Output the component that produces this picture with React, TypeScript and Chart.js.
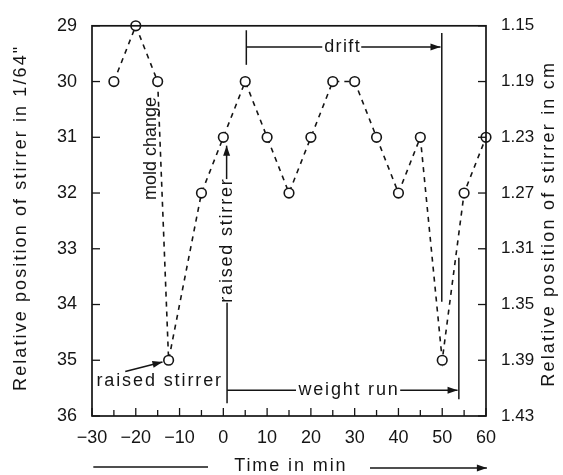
import React, { useEffect, useRef } from 'react';
import { Chart, registerables } from 'chart.js';

Chart.register(...registerables);

// ---- data ----
const timeMin = [-25, -20, -15, -12.5, -5, 0, 5, 10, 15, 20, 25, 30, 35, 40, 45, 50, 55, 60];
const position64 = [30, 29, 30, 35, 32, 31, 30, 31, 32, 31, 30, 30, 31, 32, 31, 35, 32, 31];

const xTickValues = [-30, -20, -10, 0, 10, 20, 30, 40, 50, 60];
const xTickLabels = ['−30', '−20', '−10', '0', '10', '20', '30', '40', '50', '60'];
const leftTickValues = [29, 30, 31, 32, 33, 34, 35, 36];
const leftTickLabels = ['29', '30', '31', '32', '33', '34', '35', '36'];
const rightTickLabels = ['1.15', '1.19', '1.23', '1.27', '1.31', '1.35', '1.39', '1.43'];

const leftTitle = 'Relative position of stirrer in 1/64"';
const rightTitle = 'Relative position of stirrer in cm';
const xTitle = 'Time in min';

const FAMILY = '"Liberation Sans", Arial, Helvetica, sans-serif';
const INK = '#151515';

type Ctx = CanvasRenderingContext2D;

function drawText(ctx: Ctx, text: string, x: number, y: number, opts: { rotate?: boolean; align?: CanvasTextAlign; spacing?: number; size?: number } = {}) {
  const spacing = opts.spacing ?? 0;
  const align = opts.align ?? 'center';
  ctx.save();
  ctx.font = `${opts.size ?? 18}px ${FAMILY}`;
  (ctx as any).letterSpacing = `${spacing}px`;
  ctx.fillStyle = INK;
  ctx.textBaseline = 'middle';
  ctx.textAlign = align;
  ctx.translate(x, y);
  if (opts.rotate) ctx.rotate(-Math.PI / 2);
  ctx.fillText(text, align === 'center' ? spacing / 2 : 0, 0);
  ctx.restore();
}

function line(ctx: Ctx, x1: number, y1: number, x2: number, y2: number) {
  ctx.beginPath();
  ctx.moveTo(x1, y1);
  ctx.lineTo(x2, y2);
  ctx.stroke();
}

function arrow(ctx: Ctx, x1: number, y1: number, x2: number, y2: number) {
  line(ctx, x1, y1, x2, y2);
  const a = Math.atan2(y2 - y1, x2 - x1);
  const L = 10, W = 3.5;
  ctx.beginPath();
  ctx.moveTo(x2, y2);
  ctx.lineTo(x2 - L * Math.cos(a) + W * Math.sin(a), y2 - L * Math.sin(a) - W * Math.cos(a));
  ctx.lineTo(x2 - L * Math.cos(a) - W * Math.sin(a), y2 - L * Math.sin(a) + W * Math.cos(a));
  ctx.closePath();
  ctx.fill();
}

const decorPlugin = {
  id: 'decor',
  afterDraw(chart: any) {
    const ctx: Ctx = chart.ctx;
    const xs = chart.scales.x;
    const ys = chart.scales.y;
    const X = (v: number) => xs.getPixelForValue(v);
    const Y = (v: number) => ys.getPixelForValue(v);
    const a = chart.chartArea;

    ctx.save();
    ctx.strokeStyle = INK;
    ctx.fillStyle = INK;
    ctx.lineWidth = 1.7;
    ctx.setLineDash([]);

    // frame
    ctx.strokeRect(a.left, a.top, a.right - a.left, a.bottom - a.top);

    // inward ticks
    ctx.lineWidth = 1.3;
    for (let v = -30; v <= 60; v += 5) {
      const major = v % 10 === 0;
      line(ctx, X(v), a.bottom, X(v), a.bottom - (major ? 8 : 6));
    }
    for (const v of leftTickValues) {
      line(ctx, a.left, Y(v), a.left + 8, Y(v));
      line(ctx, a.right, Y(v), a.right - 8, Y(v));
    }

    ctx.lineWidth = 1.5;
    // drift bracket
    line(ctx, X(5.25), Y(29.08), X(5.25), Y(29.7));
    line(ctx, X(5.25), Y(29.38), X(22.6), Y(29.38));
    drawText(ctx, 'drift', X(27.1), Y(29.38), { spacing: 1.4 });
    arrow(ctx, X(31.5), Y(29.38), X(49.6), Y(29.38));
    line(ctx, X(49.9), Y(29.13), X(49.9), Y(33.95));

    // raised stirrer (vertical) + weight run
    drawText(ctx, 'raised stirrer', X(0.85), Y(32.86), { rotate: true, spacing: 1.8 });
    arrow(ctx, X(0.75), Y(31.75), X(0.75), Y(31.15));
    line(ctx, X(0.85), Y(33.97), X(0.85), Y(35.77));
    line(ctx, X(0.85), Y(35.54), X(16.6), Y(35.54));
    drawText(ctx, 'weight run', X(28.5), Y(35.54), { spacing: 1.8 });
    arrow(ctx, X(40.4), Y(35.54), X(53.5), Y(35.54));
    line(ctx, X(53.8), Y(33.16), X(53.8), Y(35.7));

    // raised stirrer (horizontal) at mold change
    drawText(ctx, 'raised stirrer', X(-29.0), Y(35.38), { align: 'left', spacing: 1.9 });
    arrow(ctx, X(-22.4), Y(35.2), X(-13.9), Y(35.03));

    // mold change
    drawText(ctx, 'mold change', X(-16.5), Y(31.2), { rotate: true, spacing: 0 });

    // axis titles
    drawText(ctx, leftTitle, 21, (a.top + a.bottom) / 2 - 2, { rotate: true, spacing: 2.1 });
    drawText(ctx, rightTitle, 549, (a.top + a.bottom) / 2 + 4, { rotate: true, spacing: 2.2 });

    const ty = a.bottom + 50;
    line(ctx, X(-29.7), ty + 1, X(-3.5), ty + 1);
    drawText(ctx, xTitle, X(15.2), ty, { spacing: 1.9 });
    arrow(ctx, X(33.5), ty + 2, X(60.2), ty + 2);

    ctx.restore();
  },
};

export default function App() {
  const ref = useRef<HTMLCanvasElement | null>(null);

  useEffect(() => {
    document.body.style.margin = '0';
    const canvas = ref.current!;
    const tickFont = { family: FAMILY, size: 18 };
    const rightFont = { family: FAMILY, size: 17 };

    const chart = new Chart(canvas, {
      type: 'line',
      data: {
        datasets: [
          {
            data: timeMin.map((x, i) => ({ x, y: position64[i] })),
            borderColor: INK,
            borderWidth: 1.6,
            borderDash: [5, 5],
            pointRadius: 4.8,
            pointBorderWidth: 1.6,
            pointBackgroundColor: '#ffffff',
            pointBorderColor: INK,
            tension: 0,
            fill: false,
            clip: false as any,
          },
        ],
      },
      options: {
        animation: false,
        responsive: false,
        events: [],
        layout: { padding: { top: 22, left: 0, right: 0, bottom: 0 } },
        plugins: { legend: { display: false }, tooltip: { enabled: false } },
        scales: {
          x: {
            type: 'linear',
            min: -30,
            max: 60,
            afterBuildTicks: (s: any) => { s.ticks = xTickValues.map((value) => ({ value })); },
            ticks: {
              autoSkip: false,
              maxRotation: 0,
              padding: 11,
              color: INK,
              font: tickFont,
              callback: (v: any) => xTickLabels[xTickValues.indexOf(Number(v))],
            },
            grid: { display: false, drawTicks: false },
            border: { display: false },
            afterFit: (s: any) => { s.height = 59; },
          },
          y: {
            type: 'linear',
            position: 'left',
            min: 29,
            max: 36,
            reverse: true,
            afterBuildTicks: (s: any) => { s.ticks = leftTickValues.map((value) => ({ value })); },
            ticks: {
              padding: 15,
              color: INK,
              font: tickFont,
              callback: (v: any) => leftTickLabels[leftTickValues.indexOf(Number(v))],
            },
            grid: { display: false, drawTicks: false },
            border: { display: false },
            afterFit: (s: any) => { s.width = 92; },
          },
          y2: {
            type: 'linear',
            position: 'right',
            min: 29,
            max: 36,
            reverse: true,
            afterBuildTicks: (s: any) => { s.ticks = leftTickValues.map((value) => ({ value })); },
            ticks: {
              padding: 15,
              color: INK,
              font: rightFont,
              callback: (v: any) => rightTickLabels[leftTickValues.indexOf(Number(v))],
            },
            grid: { display: false, drawTicks: false },
            border: { display: false },
            afterFit: (s: any) => { s.width = 77; },
          },
        },
      } as any,
      plugins: [decorPlugin],
    });

    return () => chart.destroy();
  }, []);

  return (
    <div style={{ width: 563, height: 475, background: '#fff' }}>
      <canvas ref={ref} width={563} height={475} style={{ display: 'block' }} />
    </div>
  );
}
